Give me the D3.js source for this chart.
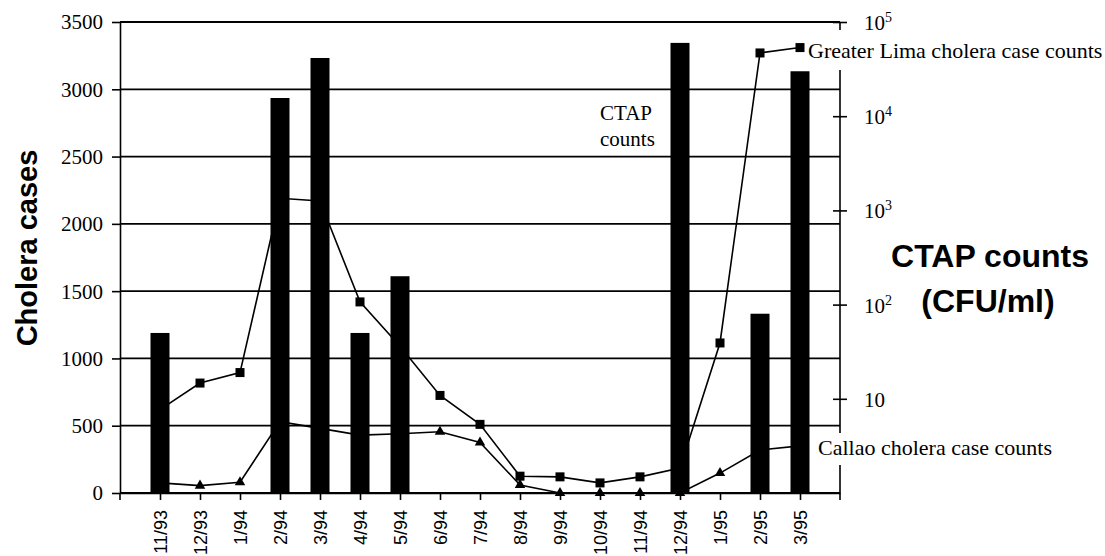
<!DOCTYPE html>
<html>
<head>
<meta charset="utf-8">
<script src="https://cdn.jsdelivr.net/npm/d3@7"></script>
<style>
  html, body { margin: 0; padding: 0; background: #fff; }
  svg { display: block; }
</style>
</head>
<body>
<svg id="chart" width="1105" height="556"></svg>
<script>
// ---------- data ----------
const categories = ["11/93","12/93","1/94","2/94","3/94","4/94","5/94","6/94","7/94",
                    "8/94","9/94","10/94","11/94","12/94","1/95","2/95","3/95"];
const limaCases   = [620, 817, 895, 2190, 2170, 1420, 1090, 725, 510, 125, 120, 75, 120, 185, 1115, 3270, 3310];
const callaoCases = [75, 55, 80, 530, 480, 430, 440, 455, 375, 60, 0, 0, 0, 0, 148, 320, 350];
const ctapCounts  = [50, null, null, 15600, 41500, 50, 200, null, null, null, null, null, null, 60000, null, 80, 30000];
const leftTicks   = [0, 500, 1000, 1500, 2000, 2500, 3000, 3500];
const rightTicks  = [10, 100, 1000, 10000, 100000];

// ---------- layout ----------
const L = 120, R = 840, T = 22, B = 493;
const svg = d3.select("#chart");

const x = d3.scalePoint().domain(categories).range([L, R]).padding(1);
const yL = d3.scaleLinear().domain([0, 3500]).range([B, T]);
const yR = d3.scaleLog().domain([1, 100000]).range([B, T]);

const serif = "'Liberation Serif', 'Times New Roman', serif";
const sans  = "'Liberation Sans', Arial, sans-serif";

// gridlines
svg.append("g").selectAll("line").data(leftTicks).join("line")
  .attr("x1", L).attr("x2", R)
  .attr("y1", d => yL(d)).attr("y2", d => yL(d))
  .attr("stroke", "#000").attr("stroke-width", 1.8);

// left axis
const gL = svg.append("g").attr("transform", `translate(${L},0)`)
  .call(d3.axisLeft(yL).tickValues(leftTicks).tickSize(8).tickSizeOuter(0).tickPadding(9)
        .tickFormat(d3.format("d")));
gL.selectAll("path, line").attr("stroke", "#000").attr("stroke-width", 1.6);
gL.selectAll("text").attr("font-family", serif).attr("font-size", 21).attr("fill", "#000")
  .attr("dy", "0.33em");

// bottom axis
const gB = svg.append("g").attr("transform", `translate(0,${B})`)
  .call(d3.axisBottom(x).tickSize(7).tickSizeOuter(0).tickPadding(10));
gB.selectAll("path, line").attr("stroke", "#000").attr("stroke-width", 1.6);
gB.selectAll("text")
  .attr("font-family", sans).attr("font-size", 18).attr("fill", "#000")
  .attr("text-anchor", "end")
  .attr("transform", "rotate(-90)")
  .attr("x", -17).attr("y", 0).attr("dy", "0.36em");
// boundary ticks at both ends
const endTicks = [x(categories[0]) - x.step(), x(categories[categories.length - 1]) + x.step()];
svg.append("g").selectAll("line").data(endTicks).join("line")
  .attr("x1", d => d).attr("x2", d => d).attr("y1", B).attr("y2", B + 7)
  .attr("stroke", "#000").attr("stroke-width", 1.6);

// right axis
const gR = svg.append("g").attr("transform", `translate(${R},0)`)
  .call(d3.axisRight(yR).tickValues(rightTicks).tickSize(7).tickSizeOuter(0).tickFormat(""));
gR.selectAll("path, line").attr("stroke", "#000").attr("stroke-width", 1.6);
gR.selectAll(".tick line").attr("x1", -7).attr("x2", 7);
gR.select(".domain").attr("d", `M0,${B}V${T}`);

// lines
const line = d3.line().x((d, i) => x(categories[i])).y(d => yL(d));
svg.append("path").datum(limaCases).attr("d", line)
  .attr("fill", "none").attr("stroke", "#000").attr("stroke-width", 1.6);
svg.append("path").datum(callaoCases).attr("d", line)
  .attr("fill", "none").attr("stroke", "#000").attr("stroke-width", 1.6);

// markers
svg.append("g").selectAll("rect").data(limaCases).join("rect")
  .attr("x", (d, i) => x(categories[i]) - 4.5).attr("y", d => yL(d) - 4.5)
  .attr("width", 9).attr("height", 9).attr("fill", "#000");
const tri = d3.symbol().type(d3.symbolTriangle).size(48);
svg.append("g").selectAll("path").data(callaoCases).join("path")
  .attr("d", tri)
  .attr("transform", (d, i) => `translate(${x(categories[i])},${yL(d)})`)
  .attr("fill", "#000");

// CTAP bars (log right axis)
const barW = 19;
svg.append("g").selectAll("rect")
  .data(categories.map((c, i) => ({c, v: ctapCounts[i]})).filter(d => d.v != null))
  .join("rect")
  .attr("x", d => x(d.c) - barW / 2).attr("width", barW)
  .attr("y", d => yR(d.v)).attr("height", d => B - yR(d.v))
  .attr("fill", "#000");

// right tick labels
const rl = svg.append("g").selectAll("text").data(rightTicks).join("text")
  .attr("x", R + 24).attr("y", d => yR(d) + 8)
  .attr("font-family", serif).attr("font-size", 21).attr("fill", "#000");
rl.append("tspan").text("10");
rl.filter(d => d > 10).append("tspan")
  .attr("font-size", 14).attr("dy", -8)
  .text(d => Math.round(Math.log10(d)));

// series labels with white backgrounds
svg.append("rect").attr("x", 812).attr("y", 30).attr("width", 293).attr("height", 40).attr("fill", "#fff");
svg.append("text").attr("x", 808).attr("y", 58)
  .attr("font-family", serif).attr("font-size", 22).attr("fill", "#000")
  .text("Greater Lima cholera case counts");
svg.append("rect").attr("x", 815).attr("y", 433).attr("width", 290).attr("height", 32).attr("fill", "#fff");
svg.append("text").attr("x", 818).attr("y", 455)
  .attr("font-family", serif).attr("font-size", 22).attr("fill", "#000")
  .text("Callao cholera case counts");

svg.append("text").attr("x", 600).attr("y", 120)
  .attr("font-family", serif).attr("font-size", 21).attr("fill", "#000").text("CTAP");
svg.append("text").attr("x", 600).attr("y", 146)
  .attr("font-family", serif).attr("font-size", 21).attr("fill", "#000").text("counts");

// axis titles
svg.append("text")
  .attr("transform", "translate(37,248) rotate(-90)")
  .attr("text-anchor", "middle")
  .attr("font-family", sans).attr("font-weight", "bold").attr("font-size", 29).attr("fill", "#000")
  .text("Cholera cases");
svg.append("text").attr("x", 990).attr("y", 267).attr("text-anchor", "middle")
  .attr("font-family", sans).attr("font-weight", "bold").attr("font-size", 32).attr("fill", "#000")
  .text("CTAP counts");
svg.append("text").attr("x", 988).attr("y", 312).attr("text-anchor", "middle")
  .attr("font-family", sans).attr("font-weight", "bold").attr("font-size", 32).attr("fill", "#000")
  .text("(CFU/ml)");
</script>
</body>
</html>
